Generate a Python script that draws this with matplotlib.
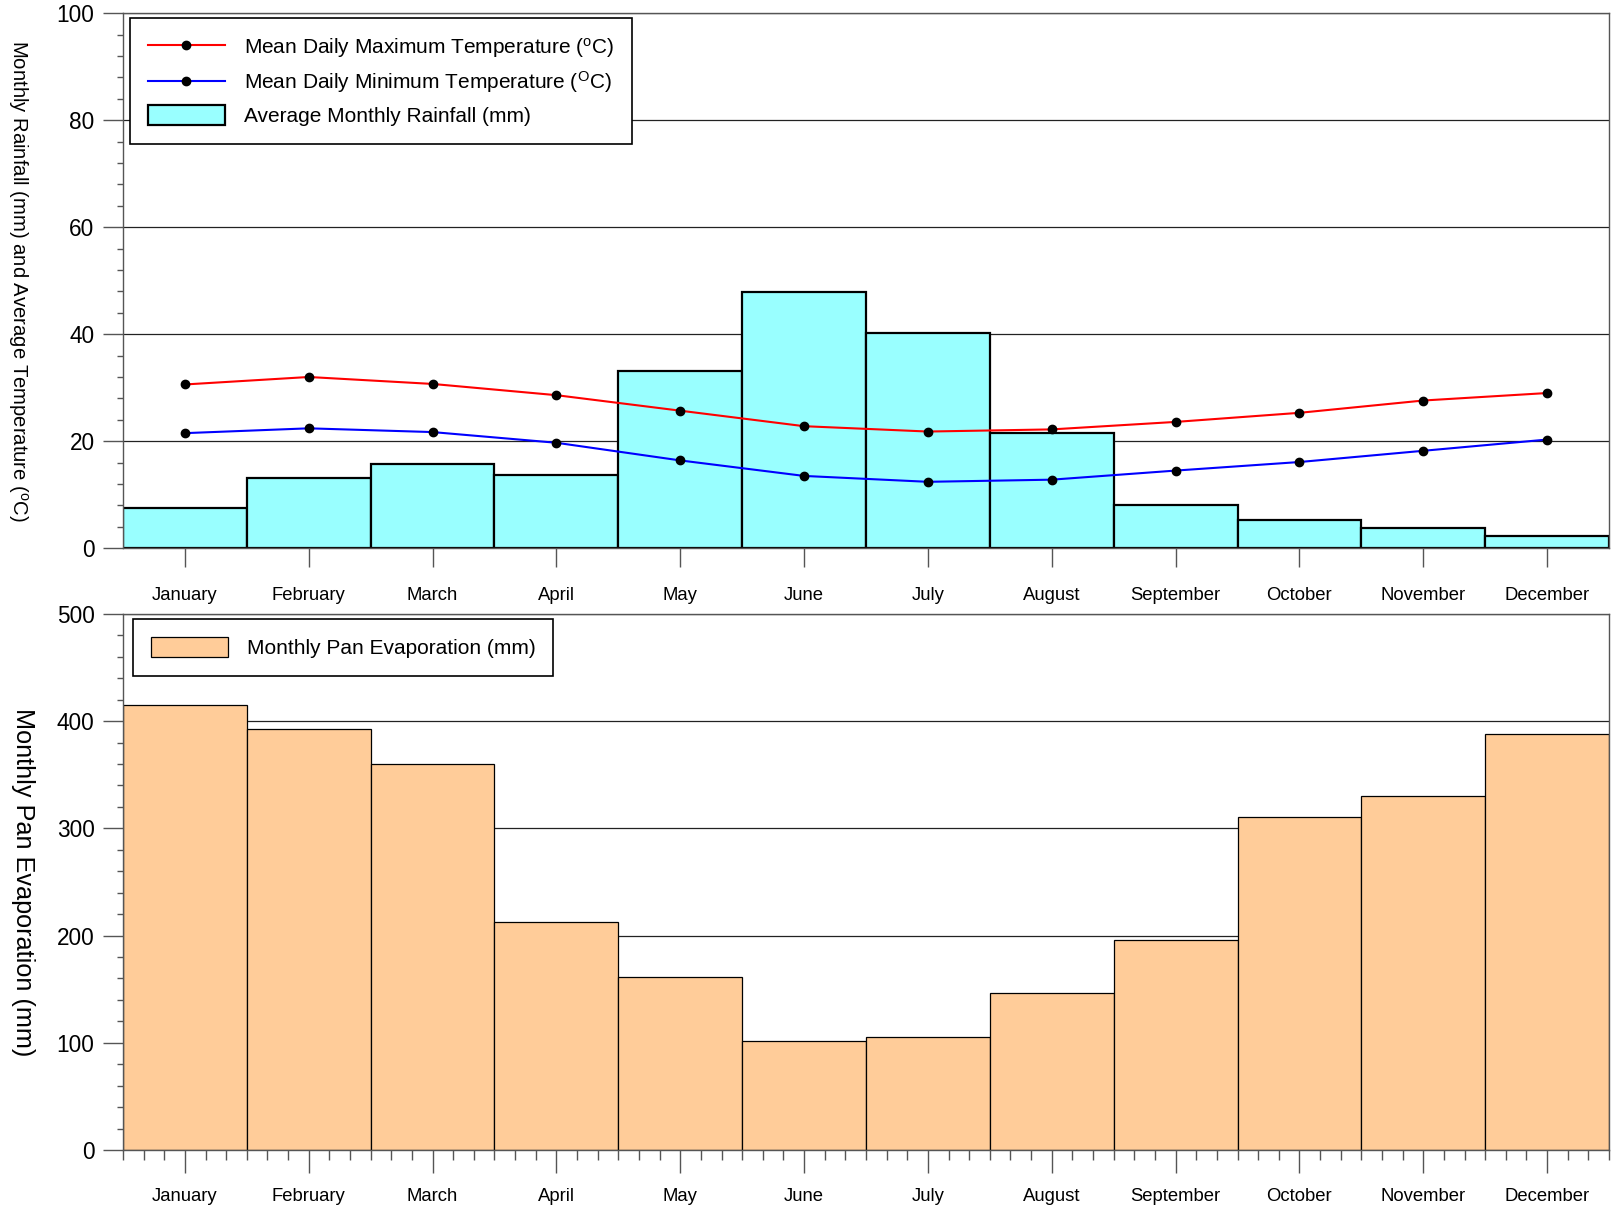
import numpy as np
import matplotlib
matplotlib.use("Agg")
import matplotlib.pyplot as plt
from matplotlib.ticker import MultipleLocator, FixedLocator

plt.rcParams.update({
    "font.family": ["Liberation Sans", "DejaVu Sans"],
    "mathtext.fontset": "custom",
    "mathtext.rm": "Liberation Sans",
    "mathtext.it": "Liberation Sans",
})

# ── data ──
months = ["January", "February", "March", "April", "May", "June", "July",
          "August", "September", "October", "November", "December"]
rainfall = [7.5, 13.2, 15.7, 13.7, 33.2, 47.8, 40.2, 21.5, 8.1, 5.2, 3.7, 2.3]
t_max = [30.6, 32.0, 30.7, 28.6, 25.7, 22.8, 21.8, 22.2, 23.6, 25.3, 27.6, 29.0]
t_min = [21.5, 22.4, 21.7, 19.7, 16.4, 13.5, 12.4, 12.8, 14.5, 16.1, 18.2, 20.3]
evaporation = [415, 393, 360, 213, 161, 102, 105, 146, 196, 311, 330, 388]

C_RAIN = "#99FFFF"; C_EVAP = "#FFCC99"; C_TICK = "#555555"
x = np.arange(len(months)) + 0.5

fig = plt.figure(figsize=(16.22, 12.10), dpi=100)
ax1 = fig.add_axes([0.0758, 0.547, 0.9162, 0.442])
ax2 = fig.add_axes([0.0758, 0.0496, 0.9162, 0.443])

LEG = dict(fontsize=15, handlelength=3.7, handleheight=1.1, handletextpad=0.9,
           borderpad=0.85, borderaxespad=0.0, fancybox=False, framealpha=1,
           edgecolor="black", loc="upper left")


def frame(ax):
    for s in ax.spines.values():
        s.set_color(C_TICK); s.set_linewidth(1.0)
    ax.set_axisbelow(True)
    ax.yaxis.grid(True, which="major", color="#222222", lw=0.9)
    ax.set_xlim(0, 12)
    ax.set_xticks(x)
    ax.set_xticklabels(months, fontsize=13.3)
    ax.tick_params(axis="y", which="major", direction="out", length=14.4, width=1.0,
                   color=C_TICK, labelsize=16.3, pad=6)
    ax.tick_params(axis="y", which="minor", direction="out", length=4.5, width=1.0, color=C_TICK)


# ── top: rainfall + temperature ──
frame(ax1)
ax1.bar(x, rainfall, width=1.0, color=C_RAIN, edgecolor="black", lw=1.6,
        label="Average Monthly Rainfall (mm)", zorder=2)
ax1.plot(x, t_max, color="red", lw=1.5, marker="o", ms=6, mfc="black", mec="black",
         label=r"Mean Daily Maximum Temperature ($^{\rm o}$C)", zorder=3)
ax1.plot(x, t_min, color="blue", lw=1.5, marker="o", ms=6, mfc="black", mec="black",
         label=r"Mean Daily Minimum Temperature ($^{\rm O}$C)", zorder=3)
ax1.set_ylim(0, 100)
ax1.yaxis.set_major_locator(MultipleLocator(20))
ax1.yaxis.set_minor_locator(MultipleLocator(4))
ax1.tick_params(axis="x", which="major", direction="out", length=13.7, width=1.0,
                color=C_TICK, pad=14.5)
ax1.set_ylabel(r"Monthly Rainfall (mm) and Average Temperature ($^{\rm o}$C)",
               fontsize=14.6, rotation=-90)
ax1.yaxis.set_label_coords(-0.079, 0.5)
h, l = ax1.get_legend_handles_labels()
leg = ax1.legend(h, l, bbox_to_anchor=(0.0049, 0.9903), labelspacing=0.45, **LEG)
leg.get_frame().set_linewidth(1.2)

# ── bottom: evaporation ──
frame(ax2)
ax2.bar(x, evaporation, width=1.0, color=C_EVAP, edgecolor="black", lw=0.9,
        label="Monthly Pan Evaporation (mm)", zorder=2)
ax2.set_ylim(0, 500)
ax2.yaxis.set_major_locator(MultipleLocator(100))
ax2.yaxis.set_minor_locator(MultipleLocator(20))
ax2.xaxis.set_minor_locator(FixedLocator(np.arange(0, 12.01, 1 / 6)))
ax2.tick_params(axis="x", which="major", direction="out", length=16.5, width=1.0,
                color=C_TICK, pad=11)
ax2.tick_params(axis="x", which="minor", direction="out", length=7, width=1.0, color=C_TICK)
ax2.set_ylabel("Monthly Pan Evaporation (mm)", fontsize=18.2, rotation=-90)
ax2.yaxis.set_label_coords(-0.0755, 0.5)
leg2 = ax2.legend(bbox_to_anchor=(0.0069, 0.9903), **LEG)
leg2.get_frame().set_linewidth(1.2)

fig.savefig("out.png", dpi=100)
